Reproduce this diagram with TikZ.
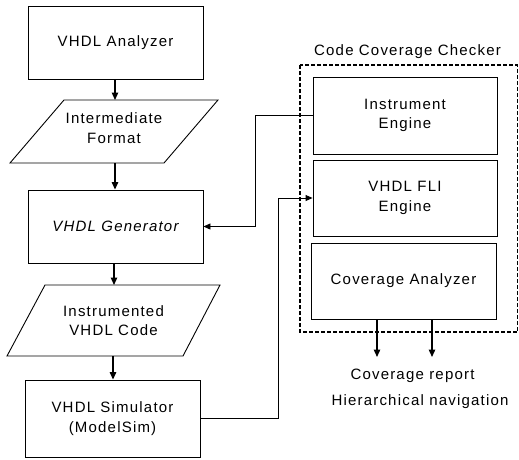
\documentclass[tikz,border=0pt]{standalone}
\usepackage{fontspec}
\setmainfont{Liberation Sans}[LetterSpace=8]
\usetikzlibrary{arrows.meta}
\tikzset{
  x=1pt,y=-1pt,
  every node/.style={font=\fontsize{15}{19.5}\selectfont},
  boxnode/.style={draw,line width=0.9pt,align=center,inner sep=0pt},
  para/.style={draw,line width=0.9pt},
  arr/.style={line width=1.3pt,-{Triangle[length=7.5pt,width=6.5pt]}},
  link/.style={line width=0.9pt,-{Triangle[length=7pt,width=6pt]}},
  lbl/.style={inner sep=0pt}
}
\begin{document}
\begin{tikzpicture}
\useasboundingbox (0,0) rectangle (519,460);
% left column
\node[boxnode,minimum width=175pt,minimum height=73pt] (ana) at (115.5,42.5) {VHDL Analyzer};
\coordinate (infA) at (64,100);
\coordinate (infB) at (218,100);
\coordinate (infC) at (164,163);
\coordinate (infD) at (10,163);
\draw[para] (infA) -- (infB) -- (infC) -- (infD) -- cycle;
\node[lbl,align=center] (inf) at (114,128) {Intermediate\\Format};
\node[boxnode,minimum width=175pt,minimum height=73pt] (gen) at (115.5,226.5) {\itshape VHDL Generator};
\coordinate (ivcA) at (45,285);
\coordinate (ivcB) at (220,285);
\coordinate (ivcC) at (183,356);
\coordinate (ivcD) at (7,356);
\draw[para] (ivcA) -- (ivcB) -- (ivcC) -- (ivcD) -- cycle;
\node[lbl,align=center] (ivc) at (113.5,320.5) {Instrumented\\VHDL Code};
\node[boxnode,minimum width=175pt,minimum height=77pt] (sim) at (112.5,418.5) {VHDL Simulator\\(ModelSim)};
% arrows in left column
\coordinate (infT) at (115,100);
\coordinate (infBt) at (115,163);
\coordinate (ivcT) at (114,285);
\coordinate (ivcBt) at (113,356);
\draw[arr] (ana.south -| infT) -- (infT);
\draw[arr] (infBt) -- (gen.north -| infBt);
\draw[arr] (gen.south -| ivcT) -- (ivcT);
\draw[arr] (ivcBt) -- (sim.north -| ivcBt);
% right side
\node[lbl] (cct) at (407.5,52) {Code Coverage Checker};
\node[boxnode,minimum width=184pt,minimum height=77pt] (ie) at (405,115.5) {Instrument\\Engine};
\node[boxnode,minimum width=184pt,minimum height=76pt] (fli) at (405,198) {VHDL FLI\\Engine};
\node[boxnode,minimum width=185pt,minimum height=76pt] (ca) at (403.5,281) {Coverage Analyzer};
\draw[dashed,line width=1.5pt,dash pattern=on 4pt off 2pt] (300,65) rectangle (517.5,332);
% connectors
\draw[link] (ie.west) -- ++(-57,0) |- (gen.east);
\draw[link] (sim.east) -- ++(78,0) |- (fli.west);
% outputs
\coordinate (o1) at (377,357);
\coordinate (o2) at (432,357);
\draw[arr] (ca.south -| o1) -- (o1);
\draw[arr] (ca.south -| o2) -- (o2);
\node[lbl] (rep) at (412.5,376) {Coverage report};
\node[lbl] (nav) at (420,402) {Hierarchical navigation};
\end{tikzpicture}
\end{document}
